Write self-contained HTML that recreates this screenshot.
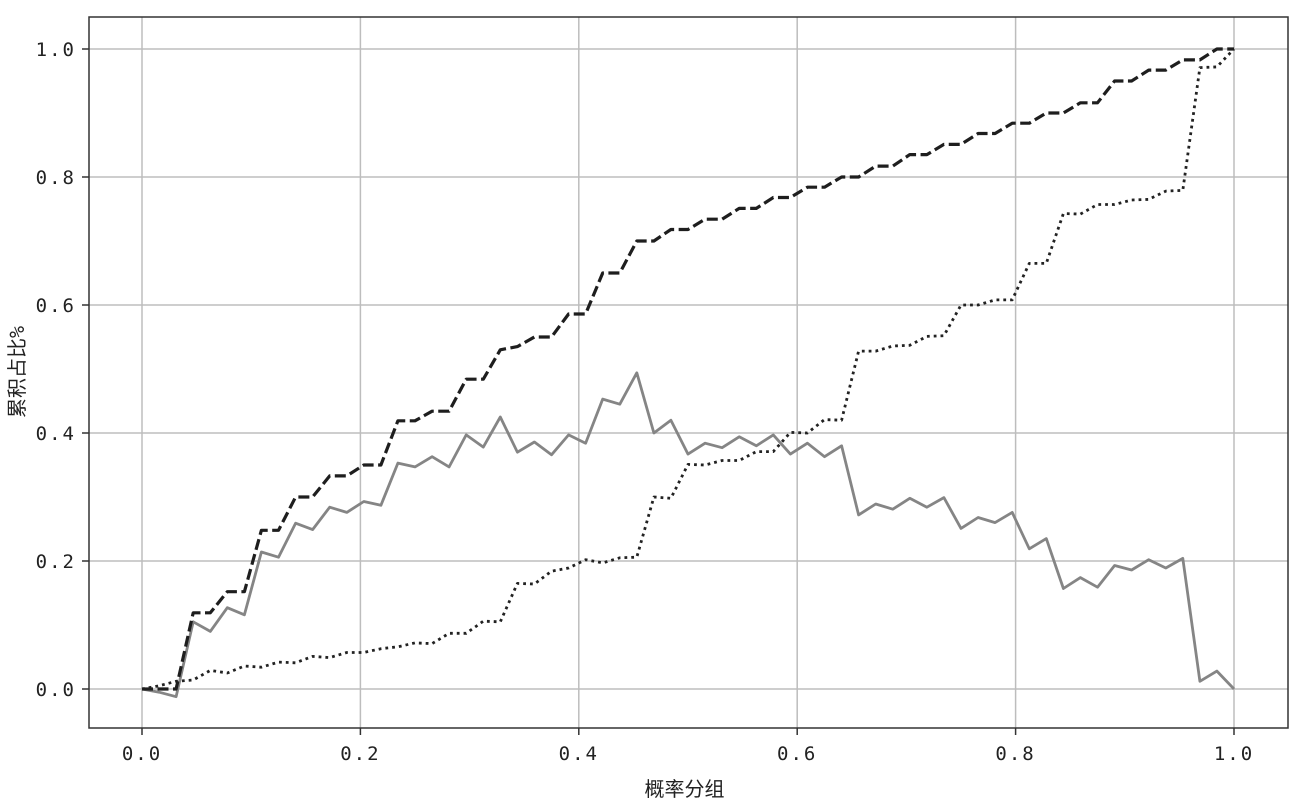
<!DOCTYPE html>
<html><head><meta charset="utf-8"><style>
html,body{margin:0;padding:0;background:#fff;}
svg{display:block;}
text{font-family:"DejaVu Sans Mono","Liberation Mono","Noto Sans CJK SC",monospace;fill:#222;}
</style></head><body>
<svg id="chart" width="1294" height="810"></svg>
<script>
const xTicks=[0,0.2,0.4,0.6,0.8,1.0];
const xTickLabels=["0.0","0.2","0.4","0.6","0.8","1.0"];
const yTicks=[0,0.2,0.4,0.6,0.8,1.0];
const yTickLabels=["0.0","0.2","0.4","0.6","0.8","1.0"];
const nGroups=64;
const tprValues=[0,0,0,0.119,0.119,0.152,0.152,0.248,0.248,0.30,0.30,0.333,0.333,0.35,0.35,0.419,0.419,0.434,0.434,0.484,0.484,0.53,0.535,0.55,0.55,0.586,0.586,0.65,0.65,0.70,0.70,0.718,0.718,0.734,0.734,0.751,0.751,0.768,0.768,0.784,0.784,0.80,0.80,0.817,0.817,0.835,0.835,0.851,0.851,0.868,0.868,0.884,0.884,0.90,0.90,0.916,0.916,0.95,0.95,0.967,0.967,0.983,0.983,1.0,1.0];
const fprValues=[0,0.005,0.012,0.014,0.029,0.025,0.036,0.034,0.042,0.041,0.051,0.049,0.057,0.057,0.063,0.066,0.072,0.071,0.087,0.087,0.106,0.105,0.165,0.164,0.184,0.189,0.202,0.197,0.205,0.206,0.30,0.298,0.351,0.35,0.357,0.357,0.371,0.371,0.401,0.40,0.421,0.42,0.528,0.528,0.536,0.537,0.551,0.552,0.60,0.60,0.608,0.608,0.665,0.665,0.743,0.742,0.757,0.757,0.764,0.765,0.778,0.779,0.971,0.972,1.0];
const ksValues=[0,-0.005,-0.012,0.105,0.09,0.127,0.116,0.214,0.206,0.259,0.249,0.284,0.276,0.293,0.287,0.353,0.347,0.363,0.347,0.397,0.378,0.425,0.37,0.386,0.366,0.397,0.384,0.453,0.445,0.494,0.40,0.42,0.367,0.384,0.377,0.394,0.38,0.397,0.367,0.384,0.363,0.38,0.272,0.289,0.281,0.298,0.284,0.299,0.251,0.268,0.26,0.276,0.219,0.235,0.157,0.174,0.159,0.193,0.186,0.202,0.189,0.204,0.012,0.028,0];

const NS="http://www.w3.org/2000/svg";
const svg=document.getElementById('chart');
const L=89,R=1288,T=17,B=728;
const X0=142,X1=1234,Y0=689,Y1=49;
const sx=v=>X0+(X1-X0)*v;
const sy=v=>Y0-(Y0-Y1)*v;
function mk(tag,attrs,parent){const e=document.createElementNS(NS,tag);for(const k in attrs)e.setAttribute(k,attrs[k]);(parent||svg).appendChild(e);return e;}

const grid=mk('g',{});


xTicks.forEach((v,i)=>{
  const l=mk('line',{x1:sx(v),x2:sx(v),y1:T,y2:B,stroke:'#bdbdbd','stroke-width':1.5},grid);
  
  
  const t=mk('line',{x1:sx(v),x2:sx(v),y1:B,y2:B+7,stroke:'#333','stroke-width':1.5});
  
  
  const tx=mk('text',{x:sx(v),y:B+32,'text-anchor':'middle','font-size':19,'letter-spacing':2});
  tx.textContent=xTickLabels[i];
  
  
});
yTicks.forEach((v,i)=>{
  const l=mk('line',{x1:L,x2:R,y1:sy(v),y2:sy(v),stroke:'#bdbdbd','stroke-width':1.5},grid);
  
  
  const t=mk('line',{x1:L-7,x2:L,y1:sy(v),y2:sy(v),stroke:'#333','stroke-width':1.5});
  
  
  const tx=mk('text',{x:L-13,y:sy(v)+7,'text-anchor':'end','font-size':19,'letter-spacing':2});
  tx.textContent=yTickLabels[i];
  
  
});

function series(vals,attrs,name){
  const d=vals.map((v,i)=>(i?'L':'M')+sx(i/nGroups).toFixed(1)+','+sy(v).toFixed(1)).join('');
  const p=mk('path',Object.assign({d:d,fill:'none','stroke-linejoin':'round'},attrs));
  
  
}
series(ksValues,{stroke:'#858585','stroke-width':2.8},'ks-line');
series(fprValues,{stroke:'#222','stroke-width':2.8,'stroke-dasharray':'2.8,4'},'fpr-line');
series(tprValues,{stroke:'#1e1e1e','stroke-width':3.2,'stroke-dasharray':'11,4.5'},'tpr-line');

const frame=mk('rect',{x:L,y:T,width:R-L,height:B-T,fill:'none',stroke:'#333','stroke-width':1.5});



const xl=mk('text',{x:(L+R)/2-4,y:796,'text-anchor':'middle','font-size':20});
xl.textContent='概率分组';


const yl=mk('text',{x:0,y:0,'text-anchor':'middle','font-size':20,transform:'translate(24,372) rotate(-90)'});
yl.textContent='累积占比%';


</script>
</body></html>
